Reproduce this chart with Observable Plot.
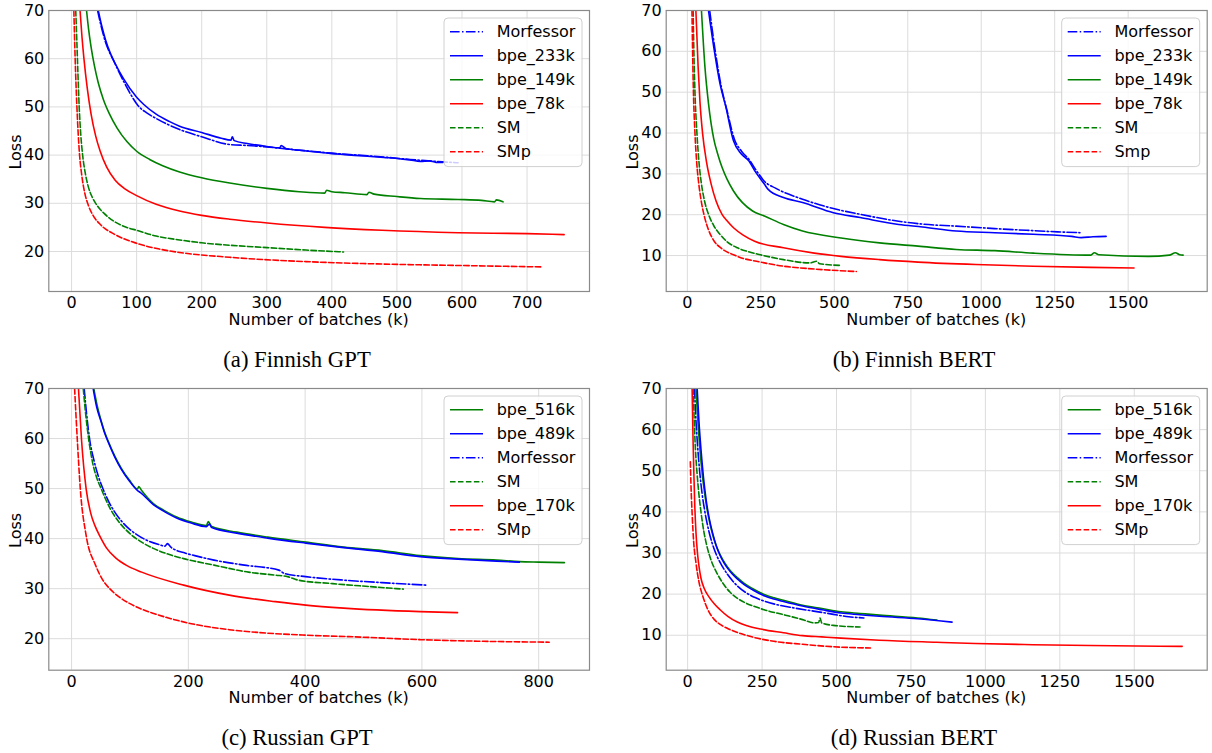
<!DOCTYPE html>
<html>
<head>
<meta charset="utf-8">
<script src="https://cdn.jsdelivr.net/npm/d3@7"></script>
<script src="https://cdn.jsdelivr.net/npm/@observablehq/plot@0.6"></script>
<style>
  body { margin: 0; background: #fff; }
  #fig { position: relative; width: 1212px; height: 753px; overflow: hidden; background: #fff; }
  .panel { position: absolute; }
  .caption { position: absolute; font-family: "Liberation Serif", "Times New Roman", serif; font-size: 22.7px; color: #000; white-space: nowrap; transform: translate(-50%, -50%); }
</style>
</head>
<body>
<div id="fig"></div>
<script>
// ---------------- DATA ----------------
// (a) Finnish GPT  [batches (k), loss]
const fiGptMorfessor = [[40,70],[45,67],[52,63.5],[65,59.5],[80,55.3],[90,52.8],[102,50.3],[115,48.8],[130,47.6],[166,45.3],[200,43.8],[243,42.2],[270,42.0],[300,41.7],[330,41.3],[360,40.9],[400,40.4],[440,40.0],[480,39.6],[520,39.1],[560,38.7],[594,38.4]];
const fiGptBpe233k = [[41,70],[46,67],[52,64],[60,61],[67,59],[80,55.8],[100,52],[111,50.5],[130,48.5],[150,47],[166,46],[200,44.7],[230,43.5],[245,43.1],[247,43.8],[250,43.0],[270,42.4],[300,41.8],[320,41.5],[322,42.0],[330,41.3],[350,41.0],[380,40.6],[400,40.3],[420,40.1],[450,39.8],[480,39.5],[500,39.3],[520,39.0],[536,38.7],[550,38.8],[560,38.5],[571,38.5]];
const fiGptBpe149k = [[23,70],[26,66.3],[30,62.4],[35,58.6],[41,55.0],[49,51.5],[58,48.6],[70,45.6],[85,42.8],[100,40.8],[120,39.1],[140,37.8],[166,36.5],[200,35.3],[243,34.2],[300,33.1],[350,32.4],[389,32.1],[392,32.7],[400,32.4],[420,32.2],[454,31.8],[457,32.3],[465,31.9],[500,31.4],[536,31.0],[594,30.8],[630,30.6],[650,30.3],[653,30.7],[663,30.3]];
const fiGptBpe78k = [[13,70],[16,64.5],[19,60],[24,54],[30,48.5],[37,44],[44,40.8],[54,37.5],[67,34.8],[82,33],[100,31.6],[130,29.8],[166,28.4],[200,27.5],[243,26.7],[301,25.9],[389,25.0],[477,24.4],[594,23.9],[700,23.7],[757,23.5]];
const fiGptSM = [[6.4,70],[8,64],[9.5,58],[11.7,50],[14,44.5],[17,40],[21,36.3],[26,33.3],[32,31.2],[40,29.4],[50,27.9],[67,26.1],[85,25],[100,24.4],[130,23.2],[166,22.4],[200,21.8],[243,21.3],[301,20.8],[360,20.3],[418,19.9]];
const fiGptSMp = [[3.5,70],[5.5,60],[8.2,50],[12.3,40],[15.5,36],[20,32.3],[26,29.5],[33,27.5],[45,25.5],[67,23.5],[100,21.7],[135,20.5],[166,19.8],[243,18.8],[360,17.9],[477,17.4],[594,17.1],[722,16.8]];

// (b) Finnish BERT
const fiBertMorfessor = [[76,70],[95,60],[115,51.5],[135,45.5],[160,38.5],[185,35.5],[210,33.5],[235,30.8],[262,28.2],[300,26.5],[392,23.8],[497,21.5],[588,20.1],[719,18.4],[800,17.7],[915,17.2],[1046,16.6],[1177,16.1],[1260,15.8],[1336,15.6]];
const fiBertBpe233k = [[72,70],[91.5,60.3],[111,52.1],[131,46.4],[157,38.1],[183,34.9],[209,33.2],[229,30.8],[262,27.5],[275,26.2],[327,24.2],[392,23.0],[497,20.5],[588,19.3],[719,17.6],[800,17.0],[915,16.0],[1046,15.6],[1177,15.2],[1308,14.7],[1340,14.4],[1380,14.6],[1425,14.7]];
const fiBertBpe149k = [[48,70],[60,56],[72,47.2],[90,38.5],[104,34.7],[118,31.6],[135,28.7],[157,25.8],[222,20.9],[262,19.7],[327,17.6],[392,16.0],[523,14.3],[654,13.1],[785,12.3],[915,11.5],[1046,11.2],[1177,10.6],[1373,10.1],[1385,10.7],[1400,10.2],[1569,9.8],[1640,10.1],[1661,10.7],[1675,10.2],[1687,10.1]];
const fiBertBpe78k = [[29,70],[36.6,56.2],[43,47.5],[52,39.8],[65,33],[81,27.5],[98,23.3],[118,20.1],[135,18.5],[157,16.8],[190,15],[229,13.5],[327,11.9],[432,10.6],[523,9.8],[654,9.0],[785,8.4],[981,7.8],[1177,7.4],[1373,7.1],[1520,6.95]];
const fiBertSM = [[19.6,70],[22,60.5],[25,52],[32.7,39.8],[40,32.5],[48,27.5],[58,23.5],[72,20.1],[90,17.3],[111,15.2],[135,13.4],[170,11.9],[205,11],[248,10.2],[327,9.0],[418,8.2],[440,8.6],[450,8.0],[520,7.6]];
const fiBertSmp = [[15.7,70],[17.5,61.5],[20,52],[26,39.8],[32,32.6],[39,27.5],[48,23],[59,19.3],[72,16.3],[91.5,13.5],[115,11.8],[157,10.2],[190,9.3],[235,8.6],[327,7.4],[432,6.7],[575,6.1]];

// (c) Russian GPT
const ruGptBpe516k = [[38,70],[44,66.5],[50,63.8],[56,61.5],[63,59.4],[74,56.5],[85,54.1],[99,51.7],[113,49.9],[115,50.4],[120,49.6],[140,47.0],[159,45.6],[180,44.3],[205,43.3],[231,42.6],[234,43.4],[240,42.4],[283,41.3],[336,40.3],[401,39.3],[466,38.3],[532,37.6],[597,36.6],[662,36.0],[728,35.7],[767,35.4],[800,35.3],[844,35.2]];
const ruGptBpe489k = [[37,70],[43,66.3],[50,63.6],[56,61.3],[63,59.2],[74,56.3],[85,53.9],[99,51.5],[113,49.6],[118,49.2],[140,46.8],[159,45.4],[180,44.1],[205,43.1],[231,42.4],[236,42.9],[240,42.2],[283,41.1],[336,40.1],[401,39.1],[466,38.2],[532,37.4],[597,36.4],[662,35.9],[728,35.5],[767,35.3]];
const ruGptMorfessor = [[21.6,70],[26,64.6],[31,59.8],[38,55.8],[46,52.4],[54,49.9],[64,47.3],[74,45.3],[87,43.3],[100,41.8],[113,40.7],[130,39.6],[150,38.8],[160,38.5],[164,39.0],[170,38.3],[192,37.2],[211,36.6],[244,35.7],[296,34.7],[355,33.7],[365,33.0],[401,32.4],[466,31.7],[532,31.2],[607,30.7]];
const ruGptSM = [[20,70],[24.5,64.5],[29.4,59.8],[36,55.2],[43,52.2],[51,49.9],[59,47.7],[67,45.8],[82,43.2],[100,41.0],[120,39.3],[139,38.1],[165,36.9],[192,36.0],[244,34.7],[303,33.3],[349,32.7],[370,32.4],[388,31.7],[447,31.0],[512,30.4],[568,29.9]];
const ruGptBpe170k = [[11.8,70],[17,59.8],[25,49.9],[33,45],[40,42.6],[48,40.6],[60,38.1],[77,36.0],[95,34.6],[120,33.3],[192,30.7],[270,28.7],[349,27.4],[401,26.7],[466,26.1],[597,25.4],[661,25.2]];
const ruGptSMp = [[5.2,70],[9.8,59.8],[15,49.9],[25,40.6],[41,34.7],[52,32],[67,29.8],[82,28.3],[100,27.0],[120,25.9],[139,25.1],[170,24],[205,23],[270,21.8],[336,21.1],[401,20.7],[499,20.3],[597,19.8],[695,19.5],[818,19.3]];

// (d) Russian BERT
const ruBertBpe516k = [[28,70],[34,62.5],[41,55.5],[49,49.2],[58,44],[68,39.5],[80,35.6],[93,32.3],[109,29.6],[122,27.9],[135,26.5],[150,25.2],[167,24.0],[190,22.6],[219,21.3],[257,19.9],[290,19.1],[322,18.5],[386,17.3],[451,16.5],[515,15.7],[579,15.3],[644,14.9],[772,14.2],[837,13.7]];
const ruBertBpe489k = [[32,70],[38,62],[45,55],[53,48.5],[62,43],[72,38.6],[84,34.8],[97,31.6],[109,29.4],[122,27.6],[135,26.2],[150,24.9],[167,23.7],[190,22.3],[219,21.0],[257,19.6],[290,18.8],[322,18.2],[386,17.1],[451,16.2],[515,15.4],[579,15.0],[644,14.6],[772,14.0],[888,13.2]];
const ruBertMorfessor = [[23,70],[27,63.5],[33,56.5],[41,49.4],[49,44.2],[58,40.0],[70,35.7],[84,32.0],[100,29.0],[116,26.8],[135,24.7],[150,23.3],[167,22.0],[195,20.4],[232,19.0],[296,17.5],[361,16.6],[464,15.4],[541,14.5],[592,14.2]];
const ruBertSM = [[19,70],[22,62.5],[26,55.5],[32,49.0],[38,44.2],[45,39.9],[54,35.4],[64,31.9],[80,28.0],[97,25.3],[118,22.7],[142,20.5],[165,19.1],[193,17.9],[225,17.0],[257,16.2],[322,15.0],[386,13.8],[425,13.0],[440,13.1],[445,14.2],[450,13.0],[489,12.4],[579,12.0]];
const ruBertBpe170k = [[15,70],[18,58],[21,49],[24,41.5],[28,35],[33,30],[39,26.3],[45,23.8],[55,21.5],[71,19.4],[90,17.6],[109,16.2],[135,14.6],[167,13.2],[200,12.3],[245,11.5],[322,10.6],[386,9.9],[450,9.6],[515,9.3],[644,8.8],[837,8.3],[966,8.0],[1159,7.7],[1352,7.5],[1661,7.3]];
const ruBertSMp = [[9,52.2],[11,47],[15,39.7],[20,33],[28,27.6],[38,23],[51,19.5],[68,16.2],[90,13.8],[112,12.5],[142,11.4],[206,9.8],[283,8.6],[386,7.8],[489,7.2],[614,6.9]];

// tick labels
const ticksFiGptX = [0,100,200,300,400,500,600,700];
const ticksFiGptY = [20,30,40,50,60,70];
const ticksFiBertX = [0,250,500,750,1000,1250,1500];
const ticksFiBertY = [10,20,30,40,50,60,70];
const ticksRuGptX = [0,200,400,600,800];
const ticksRuGptY = [20,30,40,50,60,70];
const ticksRuBertX = [0,250,500,750,1000,1250,1500];
const ticksRuBertY = [10,20,30,40,50,60,70];

// ---------------- STYLE ----------------
const BLUE = "#0000ff", GREEN = "#008000", RED = "#ff0000";
const DASH = { solid: null, dashed: "5.55,2.4", dashdot: "9.6,2.4,1.5,2.4" };

const panels = [
  {
    caption: "(a) Finnish GPT", left: 0, top: 0, width: 600, height: 330,
    ml: 48.3, mr: 11, mt: 10, mb: 39, xDomain: [-35, 796], yDomain: [11.7, 70],
    xTicks: ticksFiGptX, yTicks: ticksFiGptY, capX: 297, capY: 360,
    series: [
      { name: "Morfessor", data: fiGptMorfessor, color: BLUE, dash: "dashdot" },
      { name: "bpe_233k", data: fiGptBpe233k, color: BLUE, dash: "solid" },
      { name: "bpe_149k", data: fiGptBpe149k, color: GREEN, dash: "solid" },
      { name: "bpe_78k", data: fiGptBpe78k, color: RED, dash: "solid" },
      { name: "SM", data: fiGptSM, color: GREEN, dash: "dashed" },
      { name: "SMp", data: fiGptSMp, color: RED, dash: "dashed" }
    ]
  },
  {
    caption: "(b) Finnish BERT", left: 606, top: 0, width: 606, height: 330,
    ml: 59.7, mr: 5.3, mt: 10, mb: 39, xDomain: [-72, 1769], yDomain: [1.2, 70],
    xTicks: ticksFiBertX, yTicks: ticksFiBertY, capX: 914, capY: 360,
    series: [
      { name: "Morfessor", data: fiBertMorfessor, color: BLUE, dash: "dashdot" },
      { name: "bpe_233k", data: fiBertBpe233k, color: BLUE, dash: "solid" },
      { name: "bpe_149k", data: fiBertBpe149k, color: GREEN, dash: "solid" },
      { name: "bpe_78k", data: fiBertBpe78k, color: RED, dash: "solid" },
      { name: "SM", data: fiBertSM, color: GREEN, dash: "dashed" },
      { name: "Smp", data: fiBertSmp, color: RED, dash: "dashed" }
    ]
  },
  {
    caption: "(c) Russian GPT", left: 0, top: 378.3, width: 600, height: 330,
    ml: 48.3, mr: 11, mt: 10, mb: 38.3, xDomain: [-39, 887], yDomain: [13.7, 70],
    xTicks: ticksRuGptX, yTicks: ticksRuGptY, capX: 297, capY: 738.3,
    series: [
      { name: "bpe_516k", data: ruGptBpe516k, color: GREEN, dash: "solid" },
      { name: "bpe_489k", data: ruGptBpe489k, color: BLUE, dash: "solid" },
      { name: "Morfessor", data: ruGptMorfessor, color: BLUE, dash: "dashdot" },
      { name: "SM", data: ruGptSM, color: GREEN, dash: "dashed" },
      { name: "bpe_170k", data: ruGptBpe170k, color: RED, dash: "solid" },
      { name: "SMp", data: ruGptSMp, color: RED, dash: "dashed" }
    ]
  },
  {
    caption: "(d) Russian BERT", left: 606, top: 378.3, width: 606, height: 330,
    ml: 59.7, mr: 5.3, mt: 10, mb: 38.3, xDomain: [-72, 1745], yDomain: [1.5, 70],
    xTicks: ticksRuBertX, yTicks: ticksRuBertY, capX: 914, capY: 738.3,
    series: [
      { name: "bpe_516k", data: ruBertBpe516k, color: GREEN, dash: "solid" },
      { name: "bpe_489k", data: ruBertBpe489k, color: BLUE, dash: "solid" },
      { name: "Morfessor", data: ruBertMorfessor, color: BLUE, dash: "dashdot" },
      { name: "SM", data: ruBertSM, color: GREEN, dash: "dashed" },
      { name: "bpe_170k", data: ruBertBpe170k, color: RED, dash: "solid" },
      { name: "SMp", data: ruBertSMp, color: RED, dash: "dashed" }
    ]
  }
];

const fig = document.getElementById("fig");
const FONT = "'DejaVu Sans', Verdana, sans-serif";

for (const p of panels) {
  const lineMarks = p.series.map(s => Plot.line(s.data, {
    x: d => d[0], y: d => d[1],
    stroke: s.color, strokeWidth: 1.6,
    strokeDasharray: DASH[s.dash] || undefined,
    curve: "monotone-x", clip: true
  }));
  const svg = Plot.plot({
    width: p.width, height: p.height,
    marginLeft: p.ml, marginRight: p.mr, marginTop: p.mt, marginBottom: p.mb,
    style: { fontFamily: FONT, fontSize: "16px", color: "#000", background: "transparent", overflow: "visible" },
    x: { domain: p.xDomain },
    y: { domain: p.yDomain },
    marks: [
      Plot.gridX({ ticks: p.xTicks, stroke: "#dcdcdc", strokeOpacity: 1, strokeWidth: 1 }),
      Plot.gridY({ ticks: p.yTicks, stroke: "#dcdcdc", strokeOpacity: 1, strokeWidth: 1 }),
      ...lineMarks,
      Plot.frame({ stroke: "#8a8a8a", strokeWidth: 1.2 }),
      Plot.axisX({ ticks: p.xTicks, tickSize: 0, tickPadding: 5, tickFormat: d => String(d), label: null, fontSize: 16 }),
      Plot.axisY({ ticks: p.yTicks, tickSize: 0, tickPadding: 4.5, tickFormat: d => String(d), label: null, fontSize: 16 })
    ]
  });

  const s = d3.select(svg);
  const fx0 = p.ml, fx1 = p.width - p.mr, fy0 = p.mt, fy1 = p.height - p.mb;

  // axis titles
  s.append("text")
    .attr("x", (fx0 + fx1) / 2).attr("y", fy1 + 28)
    .attr("text-anchor", "middle").attr("dominant-baseline", "central")
    .style("font-family", FONT).style("font-size", "16px").attr("fill", "#000")
    .text("Number of batches (k)");
  s.append("text")
    .attr("transform", `translate(${fx0 - 33.3},${(fy0 + fy1) / 2 + 1.5}) rotate(-90)`)
    .attr("text-anchor", "middle").attr("dominant-baseline", "central")
    .style("font-family", FONT).style("font-size", "16px").attr("fill", "#000")
    .text("Loss");

  // legend
  const bw = 138, bh = 148.6;
  const bx = fx1 - 7 - bw, by = fy0 + 8;
  const lg = s.append("g");
  lg.append("rect").attr("x", bx).attr("y", by).attr("width", bw).attr("height", bh)
    .attr("rx", 4).attr("fill", "#fff").attr("fill-opacity", 0.8)
    .attr("stroke", "#d0d0d0").attr("stroke-width", 1);
  p.series.forEach((ser, i) => {
    const yy = fy0 + 21.7 + i * 24;
    const ln = lg.append("line").attr("x1", bx + 6).attr("x2", bx + 39).attr("y1", yy).attr("y2", yy)
      .attr("stroke", ser.color).attr("stroke-width", 1.6);
    if (DASH[ser.dash]) ln.attr("stroke-dasharray", DASH[ser.dash]);
    lg.append("text").attr("x", bx + 52.7).attr("y", yy)
      .attr("dominant-baseline", "central").attr("text-anchor", "start")
      .style("font-family", FONT).style("font-size", "16px").attr("fill", "#000")
      .text(ser.name);
  });

  const div = document.createElement("div");
  div.className = "panel";
  div.style.left = p.left + "px";
  div.style.top = p.top + "px";
  div.style.width = p.width + "px";
  div.style.height = p.height + "px";
  svg.style.maxWidth = "none";
  div.appendChild(svg);
  fig.appendChild(div);

  const cap = document.createElement("div");
  cap.className = "caption";
  cap.style.left = p.capX + "px";
  cap.style.top = p.capY + "px";
  cap.textContent = p.caption;
  fig.appendChild(cap);
}
</script>
</body>
</html>
